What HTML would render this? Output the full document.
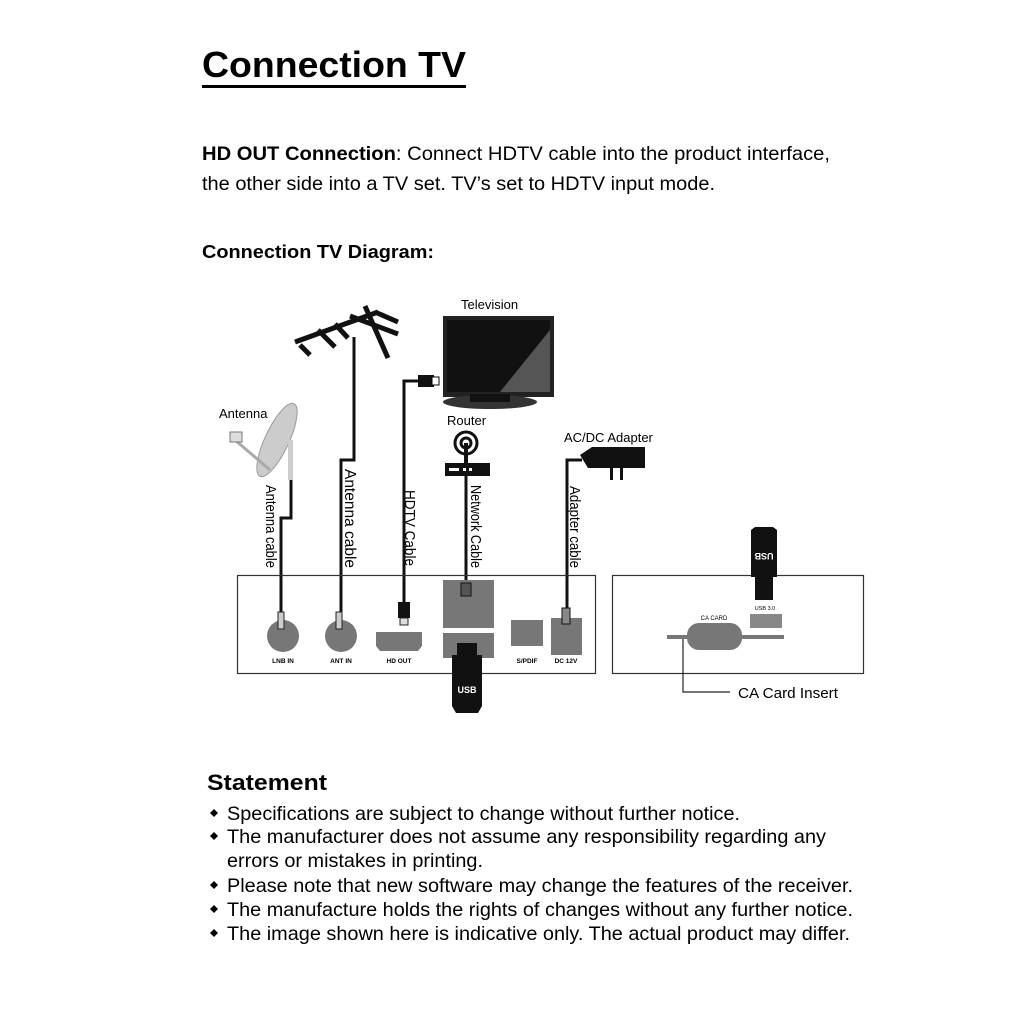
<!DOCTYPE html>
<html><head><style>
body{margin:0;background:#fff;}
svg text{font-family:"Liberation Sans",sans-serif;}
</style></head><body>
<svg width="1024" height="1024" viewBox="0 0 1024 1024" xmlns="http://www.w3.org/2000/svg">
<rect width="1024" height="1024" fill="#fff"/>
<text x="202" y="77" font-size="36" font-weight="bold" textLength="264" lengthAdjust="spacingAndGlyphs">Connection TV</text>
<rect x="202" y="85" width="264" height="3" fill="#000"/>
<text x="202" y="160" font-size="19.5" textLength="628" lengthAdjust="spacingAndGlyphs"><tspan font-weight="bold">HD OUT Connection</tspan>:  Connect HDTV cable into the product interface,</text>
<text x="202" y="190" font-size="19.5" textLength="513" lengthAdjust="spacingAndGlyphs">the other side into a TV set. TV’s set to HDTV input mode.</text>
<text x="202" y="258" font-size="18" font-weight="bold" textLength="232" lengthAdjust="spacingAndGlyphs">Connection TV Diagram:</text>

<text x="461" y="309" font-size="13">Television</text>
<rect x="443" y="316" width="111" height="81" fill="#222"/>
<rect x="447" y="320" width="103" height="72" fill="#111"/>
<polygon points="500,392 550,330 550,392" fill="#555"/>
<ellipse cx="490" cy="402" rx="47" ry="7" fill="#333"/>
<rect x="470" y="394" width="40" height="8" fill="#111"/>
<rect x="418" y="375" width="16" height="12" fill="#111"/>
<rect x="432" y="377" width="7" height="8" fill="#fff" stroke="#000"/>

<g stroke="#111" stroke-width="5" stroke-linecap="butt">
<line x1="295" y1="342" x2="378" y2="312"/>
<line x1="300" y1="345" x2="310" y2="355"/>
<line x1="318" y1="330" x2="335" y2="347"/>
<line x1="335" y1="324" x2="348" y2="338"/>
<line x1="350" y1="316" x2="398" y2="334"/>
<line x1="365" y1="306" x2="388" y2="358"/>
<line x1="375" y1="312" x2="398" y2="322"/>
</g>
<ellipse cx="277" cy="440" rx="12" ry="40" transform="rotate(25 277 440)" fill="#ccc" stroke="#999"/>
<line x1="235" y1="440" x2="270" y2="470" stroke="#aaa" stroke-width="3"/>
<rect x="230" y="432" width="12" height="10" fill="#ddd" stroke="#777"/>
<rect x="288" y="440" width="5" height="40" fill="#ccc"/>
<text x="219" y="418" font-size="13">Antenna</text>

<text x="447" y="425" font-size="13">Router</text>
<circle cx="466" cy="443" r="11" fill="none" stroke="#111" stroke-width="3"/>
<circle cx="466" cy="443" r="5" fill="none" stroke="#111" stroke-width="3"/>
<rect x="464" y="443" width="4" height="20" fill="#111"/>
<rect x="445" y="463" width="45" height="13" fill="#111"/>
<rect x="449" y="468" width="10" height="3" fill="#fff"/>
<rect x="463" y="468" width="3" height="3" fill="#fff"/><rect x="469" y="468" width="3" height="3" fill="#fff"/>

<text x="564" y="442" font-size="13">AC/DC Adapter</text>
<path d="M580 455 L592 447 L645 447 L645 468 L588 468 Z" fill="#111"/>
<rect x="610" y="468" width="3" height="12" fill="#111"/><rect x="620" y="468" width="3" height="12" fill="#111"/>

<g fill="none" stroke="#111" stroke-width="3">
<path d="M291 480 V518 H281 V625"/>
<path d="M354 337 V460 H341 V625"/>
<path d="M420 381 H404 V612"/>
<path d="M466 476 V583"/>
<path d="M582 460 H567 V608"/>
</g>
<g font-size="15">
<text transform="translate(266,485) rotate(90)" textLength="83" lengthAdjust="spacingAndGlyphs">Antenna cable</text>
<text transform="translate(345,469) rotate(90)" font-size="16" textLength="99" lengthAdjust="spacingAndGlyphs">Antenna cable</text>
<text transform="translate(405,490) rotate(90)" textLength="76" lengthAdjust="spacingAndGlyphs">HDTV Cable</text>
<text transform="translate(471,485) rotate(90)" textLength="83" lengthAdjust="spacingAndGlyphs">Network Cable</text>
<text transform="translate(570,486) rotate(90)" textLength="82" lengthAdjust="spacingAndGlyphs">Adapter cable</text>
</g>

<rect x="237.5" y="575.5" width="358" height="98" fill="none" stroke="#333" stroke-width="1.2"/>
<circle cx="283" cy="636" r="16" fill="#777"/>
<circle cx="341" cy="636" r="16" fill="#777"/>
<rect x="278" y="612" width="6" height="17" fill="#ccc" stroke="#222"/>
<rect x="336" y="612" width="6" height="17" fill="#ccc" stroke="#222"/>
<path d="M376 632 H422 V646 L418 651 H380 L376 646 Z" fill="#777"/>
<rect x="398" y="602" width="12" height="16" fill="#111"/>
<rect x="400" y="618" width="8" height="7" fill="#ddd" stroke="#222"/>
<rect x="443" y="580" width="51" height="48" fill="#777"/>
<rect x="443" y="633" width="51" height="25" fill="#777"/>
<rect x="461" y="583" width="10" height="13" fill="#555" stroke="#111"/>
<rect x="511" y="620" width="32" height="26" fill="#777"/>
<rect x="551" y="618" width="31" height="37" fill="#777"/>
<rect x="562" y="608" width="8" height="16" fill="#888" stroke="#111"/>
<g font-size="6.5" font-weight="bold" text-anchor="middle">
<text x="283" y="663">LNB IN</text><text x="341" y="663">ANT IN</text><text x="399" y="663">HD OUT</text>
<text x="527" y="663">S/PDIF</text><text x="566" y="663">DC 12V</text>
</g>
<rect x="457" y="643" width="20" height="14" fill="#111"/>
<path d="M452 655 H482 V706 L478 713 H456 L452 706 Z" fill="#111"/>
<text x="467" y="693" font-size="9" font-weight="bold" fill="#fff" text-anchor="middle">USB</text>

<rect x="612.5" y="575.5" width="251" height="98" fill="none" stroke="#333" stroke-width="1.2"/>
<path d="M751 530 L755 527 H773 L777 530 V577 H751 Z" fill="#111"/>
<rect x="755" y="577" width="18" height="23" fill="#111"/>
<text transform="translate(764,553) rotate(180)" font-size="9" font-weight="bold" fill="#fff" text-anchor="middle">USB</text>
<text x="765" y="610" font-size="5.5" text-anchor="middle">USB 3.0</text>
<rect x="750" y="614" width="32" height="14" fill="#888"/>
<rect x="667" y="635" width="117" height="4" fill="#777"/>
<rect x="687" y="623" width="55" height="27" rx="12" fill="#777"/>
<text x="714" y="620" font-size="6" text-anchor="middle">CA CARD</text>
<path d="M683 639 V692 H730" fill="none" stroke="#222" stroke-width="1.2"/>
<text x="738" y="698" font-size="15" textLength="100" lengthAdjust="spacingAndGlyphs">CA Card Insert</text>

<text x="207" y="790" font-size="22" font-weight="bold" textLength="120" lengthAdjust="spacingAndGlyphs">Statement</text>
<g font-size="19.5">
<text x="227" y="820" textLength="513" lengthAdjust="spacingAndGlyphs">Specifications are subject to change without further notice.</text>
<text x="227" y="843" textLength="599" lengthAdjust="spacingAndGlyphs">The manufacturer does not assume any responsibility regarding any</text>
<text x="227" y="867" textLength="256" lengthAdjust="spacingAndGlyphs">errors or mistakes in printing.</text>
<text x="227" y="892" textLength="626" lengthAdjust="spacingAndGlyphs">Please note that new software may change the features of the receiver.</text>
<text x="227" y="916" textLength="626" lengthAdjust="spacingAndGlyphs">The manufacture holds the rights of changes without any further notice.</text>
<text x="227" y="940" textLength="623" lengthAdjust="spacingAndGlyphs">The image shown here is indicative only. The actual product may differ.</text>
</g>
<g fill="#000">
<path d="M214 809 l4 4 -4 4 -4 -4z"/><path d="M214 832 l4 4 -4 4 -4 -4z"/>
<path d="M214 881 l4 4 -4 4 -4 -4z"/><path d="M214 905 l4 4 -4 4 -4 -4z"/>
<path d="M214 929 l4 4 -4 4 -4 -4z"/>
</g>
</svg>
</body></html>
